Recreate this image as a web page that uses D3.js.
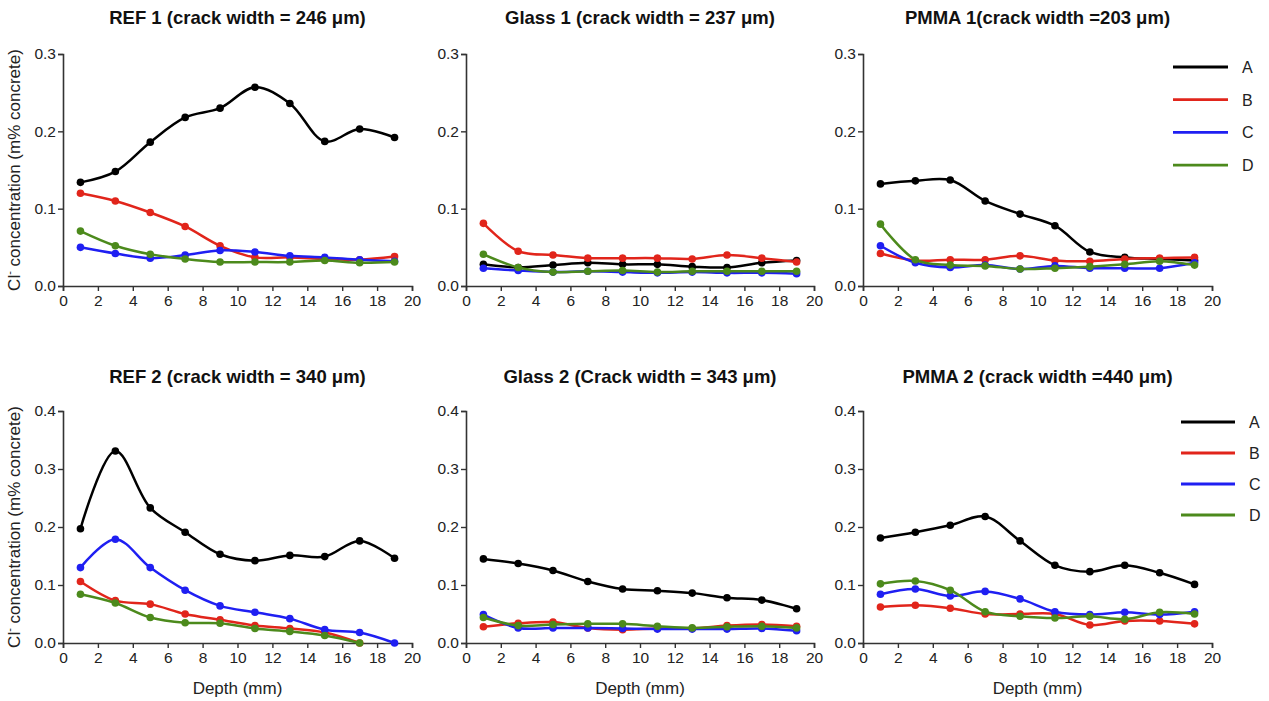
<!DOCTYPE html>
<html>
<head>
<meta charset="utf-8">
<script src="https://cdn.jsdelivr.net/npm/d3@7"></script>
<style>
  html, body { margin: 0; padding: 0; background: #fff; }
  svg { display: block; font-family: "Liberation Sans", Arial, sans-serif; }
</style>
</head>
<body>
<svg id="chart" width="1269" height="701"></svg>
<script>
// ---- Data ----
const depth = [1, 3, 5, 7, 9, 11, 13, 15, 17, 19];
const seriesNames = ["A", "B", "C", "D"];
const seriesColors = ["#000000", "#e1251b", "#1f1ff2", "#4c8a1c"];
const titles = [
  "REF 1 (crack width = 246 μm)",
  "Glass 1 (crack width = 237 μm)",
  "PMMA 1(crack width =203 μm)",
  "REF 2 (crack width = 340 μm)",
  "Glass 2 (Crack width = 343 μm)",
  "PMMA 2 (crack width =440 μm)"
];
const xTicks = [0, 2, 4, 6, 8, 10, 12, 14, 16, 18, 20];
const yTicksTop = [0.0, 0.1, 0.2, 0.3];
const yTicksBottom = [0.0, 0.1, 0.2, 0.3, 0.4];

// REF 1
const ref1A = [0.134, 0.148, 0.186, 0.218, 0.230, 0.257, 0.236, 0.187, 0.203, 0.192];
const ref1B = [0.120, 0.110, 0.095, 0.077, 0.052, 0.037, 0.037, 0.035, 0.034, 0.038];
const ref1C = [0.050, 0.042, 0.036, 0.040, 0.046, 0.044, 0.039, 0.037, 0.034, 0.032];
const ref1D = [0.071, 0.052, 0.041, 0.035, 0.031, 0.031, 0.031, 0.033, 0.030, 0.031];
// Glass 1
const glass1A = [0.028, 0.024, 0.027, 0.030, 0.028, 0.028, 0.025, 0.024, 0.030, 0.033];
const glass1B = [0.081, 0.045, 0.040, 0.036, 0.036, 0.036, 0.035, 0.040, 0.036, 0.031];
const glass1C = [0.023, 0.020, 0.018, 0.019, 0.018, 0.017, 0.018, 0.017, 0.017, 0.016];
const glass1D = [0.041, 0.024, 0.018, 0.019, 0.020, 0.018, 0.019, 0.019, 0.019, 0.019];
// PMMA 1
const pmma1A = [0.132, 0.136, 0.137, 0.110, 0.093, 0.078, 0.044, 0.037, 0.035, 0.033];
const pmma1B = [0.042, 0.033, 0.034, 0.034, 0.039, 0.033, 0.032, 0.035, 0.036, 0.037];
const pmma1C = [0.052, 0.030, 0.024, 0.027, 0.022, 0.026, 0.023, 0.023, 0.023, 0.030];
const pmma1D = [0.080, 0.034, 0.027, 0.026, 0.022, 0.023, 0.025, 0.028, 0.032, 0.027];
// REF 2
const ref2A = [0.197, 0.331, 0.233, 0.191, 0.153, 0.142, 0.151, 0.149, 0.176, 0.146];
const ref2B = [0.106, 0.073, 0.067, 0.050, 0.040, 0.030, 0.025, 0.018, 0.000];
const ref2C = [0.130, 0.179, 0.130, 0.091, 0.064, 0.053, 0.042, 0.023, 0.018, 0.000];
const ref2D = [0.084, 0.069, 0.044, 0.035, 0.034, 0.025, 0.020, 0.013, 0.000];
// Glass 2
const glass2A = [0.145, 0.137, 0.125, 0.106, 0.093, 0.090, 0.086, 0.078, 0.074, 0.059];
const glass2B = [0.028, 0.034, 0.036, 0.026, 0.023, 0.025, 0.025, 0.030, 0.032, 0.029];
const glass2C = [0.049, 0.026, 0.026, 0.026, 0.025, 0.024, 0.024, 0.024, 0.025, 0.021];
const glass2D = [0.044, 0.030, 0.032, 0.033, 0.033, 0.029, 0.026, 0.028, 0.029, 0.026];
// PMMA 2
const pmma2A = [0.181, 0.191, 0.203, 0.218, 0.176, 0.134, 0.123, 0.134, 0.121, 0.101];
const pmma2B = [0.062, 0.065, 0.060, 0.050, 0.050, 0.050, 0.031, 0.038, 0.038, 0.033];
const pmma2C = [0.084, 0.093, 0.081, 0.089, 0.076, 0.054, 0.049, 0.053, 0.049, 0.054];
const pmma2D = [0.102, 0.107, 0.091, 0.054, 0.046, 0.043, 0.046, 0.041, 0.053, 0.050];

const panelSeries = [
  [ref1A, ref1B, ref1C, ref1D],
  [glass1A, glass1B, glass1C, glass1D],
  [pmma1A, pmma1B, pmma1C, pmma1D],
  [ref2A, ref2B, ref2C, ref2D],
  [glass2A, glass2B, glass2C, glass2D],
  [pmma2A, pmma2B, pmma2C, pmma2D]
];

// ---- Layout ----
const colX = [[63, 412], [466, 814], [863, 1212]];
const rowY = [[286, 54], [643, 411]];
const yMax = [0.3, 0.4];
const svg = d3.select("#chart");
const axisColor = "#333";
const font = "'Liberation Sans', Arial, sans-serif";

panelSeries.forEach((series, i) => {
  const col = i % 3, row = Math.floor(i / 3);
  const x = d3.scaleLinear().domain([0, 20]).range(colX[col]);
  const y = d3.scaleLinear().domain([0, yMax[row]]).range(rowY[row]);
  const g = svg.append("g");

  // axes
  const xAxis = d3.axisBottom(x).tickValues(xTicks).tickFormat(d3.format("d")).tickSize(5).tickPadding(4);
  const yTicks = row === 0 ? yTicksTop : yTicksBottom;
  const yAxis = d3.axisLeft(y).tickValues(yTicks).tickFormat(d3.format(".1f")).tickSize(5).tickPadding(2);
  const gx = g.append("g").attr("transform", `translate(0,${rowY[row][0]})`).call(xAxis);
  const gy = g.append("g").attr("transform", `translate(${colX[col][0]},0)`).call(yAxis);
  [gx, gy].forEach(a => {
    a.selectAll("path").attr("stroke", axisColor).attr("stroke-width", 1.6);
    a.selectAll("line").attr("stroke", axisColor).attr("stroke-width", 1.4);
    a.selectAll("text").attr("fill", "#222").style("font-size", "15.5px").style("font-family", font);
  });

  // title
  g.append("text")
    .attr("x", (colX[col][0] + colX[col][1]) / 2)
    .attr("y", row === 0 ? 24 : 383)
    .attr("text-anchor", "middle")
    .style("font-weight", "bold").style("font-size", "18.5px")
    .attr("fill", "#111")
    .text(titles[i]);

  // series
  const line = d3.line()
    .x((d, k) => x(depth[k]))
    .y(d => y(d))
    .curve(d3.curveCatmullRom.alpha(0.5));
  series.forEach((vals, s) => {
    g.append("path")
      .attr("d", line(vals))
      .attr("fill", "none")
      .attr("stroke", seriesColors[s])
      .attr("stroke-width", 2.5);
    g.selectAll(null).data(vals).enter().append("circle")
      .attr("cx", (d, k) => x(depth[k]))
      .attr("cy", d => y(d))
      .attr("r", 3.8)
      .attr("fill", seriesColors[s]);
  });

  // y label on first column
  if (col === 0) {
    const cy = (rowY[row][0] + rowY[row][1]) / 2;
    const t = g.append("text")
      .attr("transform", `translate(20,${cy}) rotate(-90)`)
      .attr("text-anchor", "middle")
      .style("font-size", "17px")
      .attr("fill", "#222");
    t.append("tspan").text("Cl");
    t.append("tspan").attr("dy", -7).style("font-size", "11px").text("-");
    t.append("tspan").attr("dy", 7).text(" concentration (m% concrete)");
  }
  // x label on bottom row
  if (row === 1) {
    g.append("text")
      .attr("x", (colX[col][0] + colX[col][1]) / 2)
      .attr("y", 694)
      .attr("text-anchor", "middle")
      .style("font-size", "17px")
      .attr("fill", "#222")
      .text("Depth (mm)");
  }
  // legend on third column
  if (col === 2) {
    const lx0 = row === 0 ? 1173 : 1181;
    const lx1 = row === 0 ? 1228 : 1235;
    const ly0 = row === 0 ? 67 : 422;
    const step = row === 0 ? 32.7 : 31;
    seriesNames.forEach((name, s) => {
      const yy = ly0 + s * step;
      g.append("line").attr("x1", lx0).attr("x2", lx1).attr("y1", yy).attr("y2", yy)
        .attr("stroke", seriesColors[s]).attr("stroke-width", 2.8);
      g.append("text").attr("x", lx1 + 14).attr("y", yy + 6)
        .style("font-size", "16px").attr("fill", "#222").text(name);
    });
  }
});
</script>
</body>
</html>
